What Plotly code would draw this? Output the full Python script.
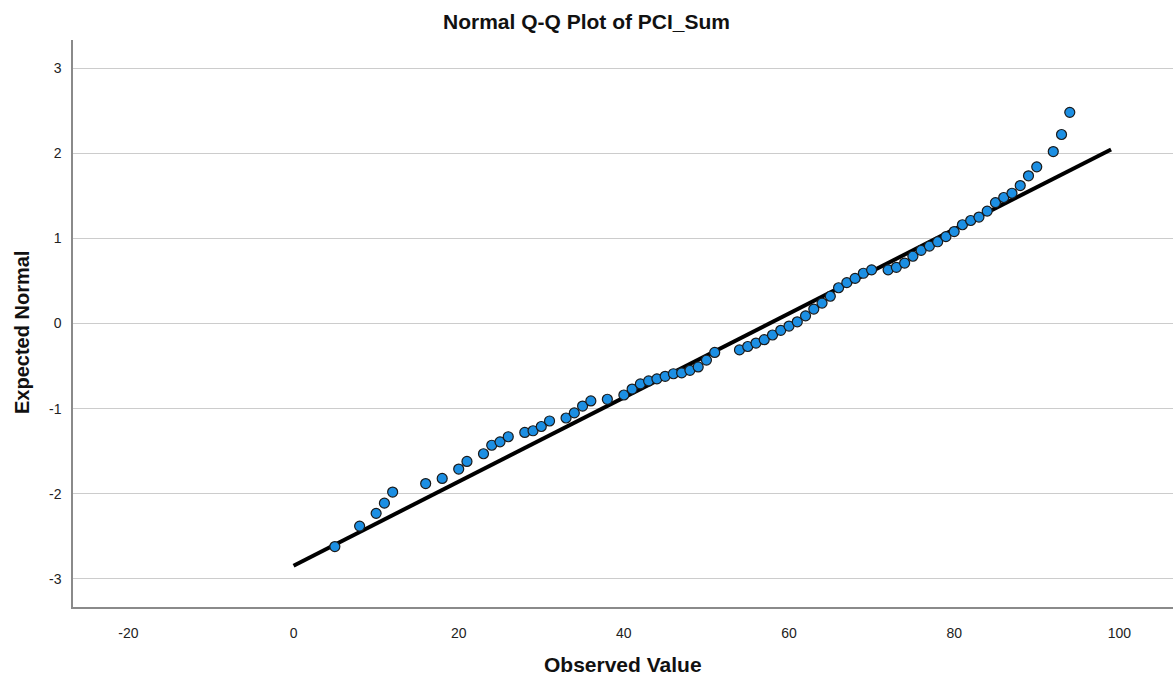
import plotly.graph_objects as go
import numpy as np

# Observed values (distinct) and their expected normal scores
observed = [5, 8, 10, 11, 12, 16, 18, 20, 21, 23, 24, 25, 26, 28, 29, 30, 31, 33, 34, 35,
            36, 38, 40, 41, 42, 43, 44, 45, 46, 47, 48, 49, 50, 51, 54, 55, 56, 57, 58, 59,
            60, 61, 62, 63, 64, 65, 66, 67, 68, 69, 70, 72, 73, 74, 75, 76, 77, 78, 79, 80,
            81, 82, 83, 84, 85, 86, 87, 88, 89, 90, 92, 93, 94]
expected = [-2.62, -2.38, -2.23, -2.11, -1.98, -1.88, -1.82, -1.71, -1.62, -1.53, -1.43, -1.39,
            -1.33, -1.28, -1.26, -1.21, -1.145, -1.11, -1.05, -0.97, -0.91, -0.89, -0.84, -0.77,
            -0.71, -0.675, -0.65, -0.62, -0.59, -0.58, -0.55, -0.51, -0.43, -0.34, -0.31, -0.27,
            -0.23, -0.19, -0.135, -0.08, -0.03, 0.02, 0.09, 0.17, 0.24, 0.32, 0.42, 0.48, 0.53,
            0.59, 0.63, 0.63, 0.66, 0.71, 0.79, 0.86, 0.91, 0.96, 1.02, 1.08, 1.16, 1.21, 1.25,
            1.32, 1.42, 1.48, 1.53, 1.62, 1.735, 1.84, 2.02, 2.22, 2.48]

# Reference line parameters (normal fit)
line_mean = 57.6
line_sd = 20.25
line_x = [0, 99]
line_y = [(v - line_mean) / line_sd for v in line_x]

x_ticks = [-20, 0, 20, 40, 60, 80, 100]
x_tick_text = ["-20", "0", "20", "40", "60", "80", "100"]
y_ticks = [-3, -2, -1, 0, 1, 2, 3]
y_tick_text = ["-3", "-2", "-1", "0", "1", "2", "3"]

FONT = "Liberation Sans, Arial, sans-serif"

fig = go.Figure()
fig.add_trace(go.Scatter(
    x=line_x, y=line_y, mode="lines",
    line=dict(color="black", width=4), hoverinfo="skip", showlegend=False))
fig.add_trace(go.Scatter(
    x=observed, y=expected, mode="markers",
    marker=dict(size=10, color="#1c8fe3", line=dict(color="#1a1a1a", width=1.2)),
    showlegend=False))

fig.update_layout(
    width=1173, height=683,
    margin=dict(l=73, r=0, t=40, b=76),
    paper_bgcolor="white", plot_bgcolor="white",
    font=dict(family=FONT, color="#222222", size=14),
    title=dict(text="<b>Normal Q-Q Plot of PCI_Sum</b>", x=0.5, xref="container",
               xanchor="center", y=1 - 22 / 683, yref="container", yanchor="middle",
               font=dict(size=21, color="#111111", family=FONT)),
    xaxis=dict(range=[-26.71, 106.5], tickvals=x_ticks, ticktext=x_tick_text,
               showgrid=False, zeroline=False,
               showline=True, linecolor="#8a8a8a", linewidth=1.5, ticks="",
               ticklabelstandoff=12, tickfont=dict(size=14)),
    yaxis=dict(range=[-3.33, 3.33], tickvals=y_ticks, ticktext=y_tick_text,
               showgrid=True, gridcolor="#cccccc",
               gridwidth=1.2, zeroline=False, showline=True, linecolor="#8a8a8a",
               linewidth=1.5, ticks="", ticklabelstandoff=7, tickfont=dict(size=14)),
    annotations=[
        dict(text="<b>Observed Value</b>", xref="paper", yref="paper", x=0.5,
             y=(607 - 665) / 567, xanchor="center", yanchor="middle", showarrow=False,
             font=dict(size=21, color="#111111")),
        dict(text="<b>Expected Normal</b>", xref="paper", yref="paper",
             x=(22 - 73) / 1100, y=(607 - 333) / 567, xanchor="center", yanchor="middle",
             textangle=-90, showarrow=False, font=dict(size=20, color="#111111")),
    ],
)

fig.write_html("out.html")
